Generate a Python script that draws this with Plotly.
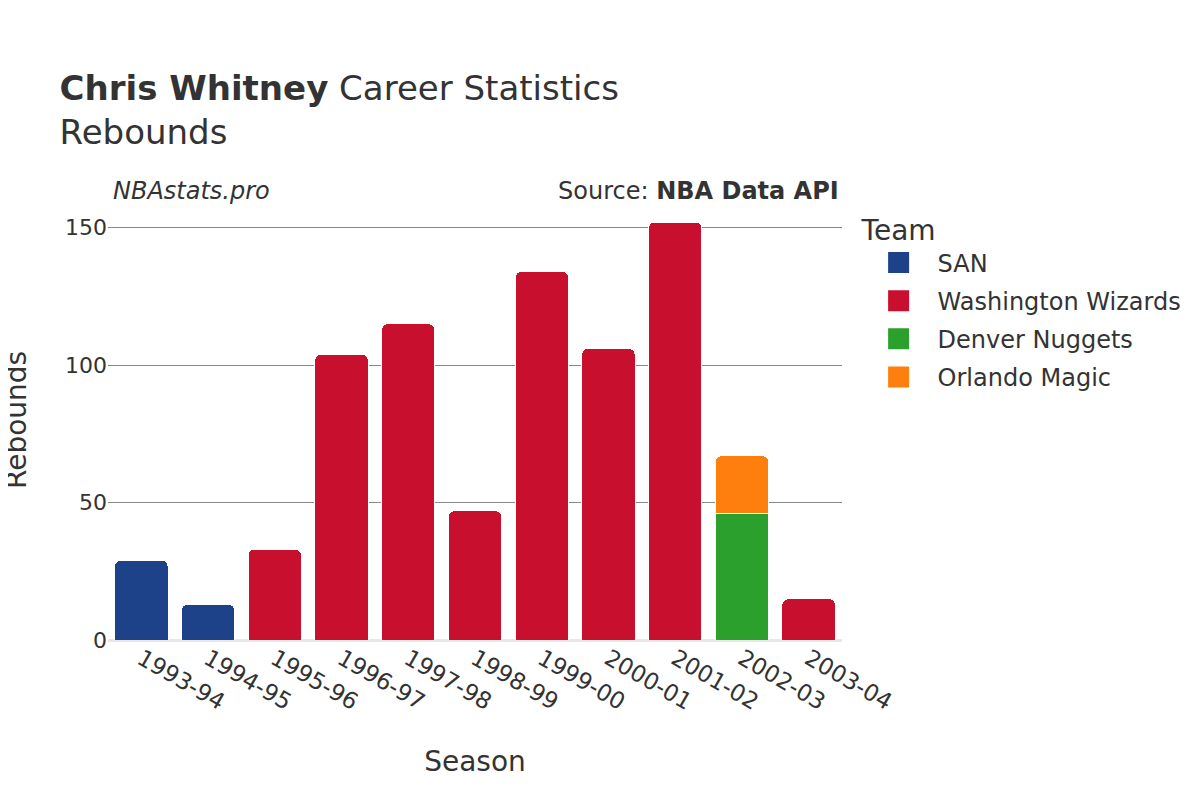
import plotly.graph_objects as go

seasons = ["1993-94", "1994-95", "1995-96", "1996-97", "1997-98", "1998-99",
           "1999-00", "2000-01", "2001-02", "2002-03", "2003-04"]
teams = ["SAN", "Washington Wizards", "Denver Nuggets", "Orlando Magic"]
colors = ["#1d428a", "#c8102e", "#2ca02c", "#ff7f0e"]
san_seasons = ["1993-94", "1994-95"]
san_reb = [29, 13]
was_seasons = ["1995-96", "1996-97", "1997-98", "1998-99", "1999-00", "2000-01", "2001-02", "2003-04"]
was_reb = [33, 104, 115, 47, 134, 106, 152, 15]
den_seasons = ["2002-03"]
den_reb = [46]
orl_seasons = ["2002-03"]
orl_reb = [21]

series = [(san_seasons, san_reb), (was_seasons, was_reb), (den_seasons, den_reb), (orl_seasons, orl_reb)]

font = "DejaVu Sans"
fig = go.Figure()
for name, col, (xs, ys) in zip(teams, colors, series):
    fig.add_trace(go.Bar(x=xs, y=ys, name=name, marker_color=col, showlegend=False,
                         marker_line=dict(color="white", width=1)))
# legend entries (larger swatches)
for i, (name, col) in enumerate(zip(teams, colors)):
    fig.add_trace(go.Scatter(x=[None], y=[None], mode="markers", name=name,
                             legendgroup=str(i),
                             marker=dict(symbol="square", size=16, color=col,
                                         line=dict(color=col, width=5))))

fig.update_layout(
    barmode="stack",
    barcornerradius=6,
    width=1200, height=800,
    paper_bgcolor="white", plot_bgcolor="white",
    font=dict(family=font, color="#333333", size=24),
    title=dict(text="<b>Chris Whitney</b> Career Statistics<br>Rebounds",
               x=0.043, xanchor="left", y=0.885, yanchor="top",
               font=dict(size=34, family=font, color="#333333")),
    margin=dict(l=100, r=366, t=192, b=168),
    bargap=0.2,
    xaxis=dict(title=dict(text="Season", font=dict(size=28), standoff=37),
               categoryorder="array", categoryarray=seasons,
               tickangle=30, tickfont=dict(size=23), showgrid=False),
    yaxis=dict(range=[0, 160], tickvals=[0, 50, 100, 150],
               showgrid=True, gridcolor="#888888", gridwidth=1,
               zeroline=True, zerolinecolor="#e8e8e8", zerolinewidth=3,
               tickfont=dict(size=22), ticks=""),
    legend=dict(title=dict(text="Team", font=dict(size=28)),
                x=1.024, xanchor="left", y=0.991, yanchor="top",
                font=dict(size=24), traceorder="grouped", tracegroupgap=4,
                itemsizing="trace", itemwidth=68),
    annotations=[
        dict(text="Rebounds", xref="paper", yref="paper", x=-0.1253, y=0.5,
             xanchor="center", yanchor="middle", textangle=-90, showarrow=False,
             font=dict(size=28, family=font)),
        dict(text="<i>NBAstats.pro</i>", xref="paper", yref="paper", x=0.004, y=1.02,
             xanchor="left", yanchor="middle", showarrow=False, font=dict(size=24, family=font)),
        dict(text="Source: <b>NBA Data API</b>", xref="paper", yref="paper", x=0.999, y=1.02,
             xanchor="right", yanchor="middle", showarrow=False, font=dict(size=24, family=font)),
    ],
)
fig.write_html("out.html")
